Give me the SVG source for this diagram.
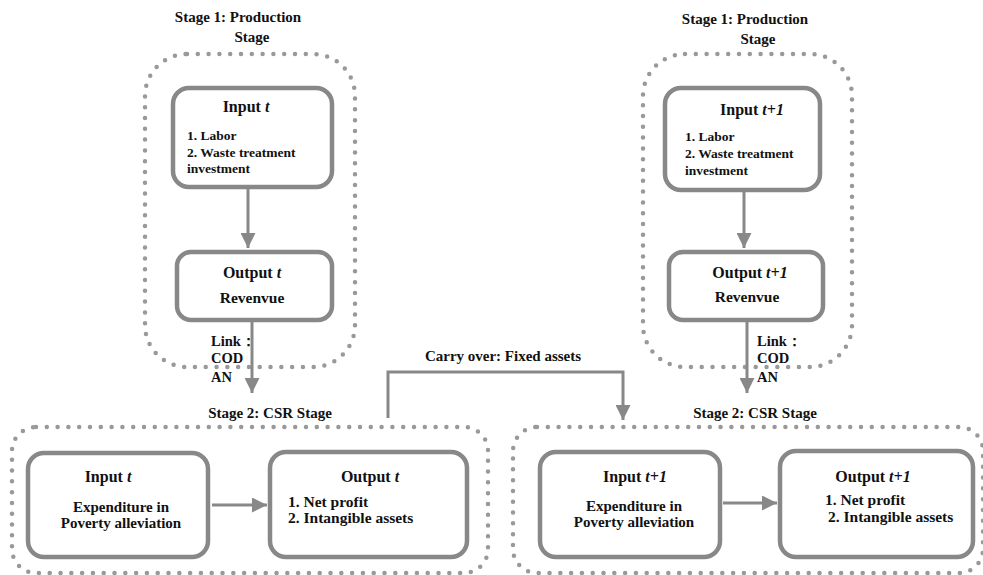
<svg xmlns="http://www.w3.org/2000/svg" width="983" height="575" viewBox="0 0 983 575">
<defs>
<style>
text{font-family:"Liberation Serif","Times New Roman",serif;font-weight:bold;fill:#111;font-size:13.5px}
.h{font-size:16px}
.s{font-size:15px}
.b{font-size:15.5px}
.l{font-size:14.5px}
.m{text-anchor:middle}
.dot{fill:none;stroke:#999;stroke-width:4.5;stroke-linecap:round;stroke-dasharray:0 10.8}
.box{fill:#fff;stroke:#888;stroke-width:4.5}
.ln{fill:none;stroke:#888;stroke-width:3}
</style>
<marker id="ah" viewBox="0 0 10 10" refX="10" refY="5" markerWidth="5" markerHeight="5" orient="auto" markerUnits="strokeWidth">
<path d="M0,0 L10,5 L0,10 z" fill="#888"/>
</marker>
</defs>
<rect width="983" height="575" fill="#fff"/>

<g id="stage1-left">
<rect class="dot" x="145" y="54" width="210" height="313" rx="42"/>
<text class="s m" x="238" y="22">Stage 1: Production</text>
<text class="s m" x="252" y="42">Stage</text>
</g>
<g id="stage1-right">
<rect class="dot" x="643" y="54" width="209" height="313" rx="42"/>
<text class="s m" x="745" y="24">Stage 1: Production</text>
<text class="s m" x="758" y="44">Stage</text>
</g>
<g id="stage2-left">
<rect class="dot" x="12" y="427" width="476" height="146" rx="24"/>
<text class="s m" x="270" y="418">Stage 2: CSR  Stage</text>
</g>
<g id="stage2-right">
<rect class="dot" x="513" y="427" width="470" height="146" rx="24"/>
<text class="s m" x="755" y="418">Stage 2: CSR Stage</text>
</g>

<g id="input-t-prod">
<rect class="box" x="173" y="88" width="159" height="99" rx="16"/>
<text class="h m" x="246" y="112">Input <tspan font-style="italic">t</tspan></text>
<text x="187" y="140">1. Labor</text>
<text x="187" y="157">2. Waste treatment</text>
<text x="187" y="173">investment</text>
</g>
<g id="output-t-prod">
<rect class="box" x="177" y="252" width="155" height="68" rx="14"/>
<text class="h m" x="252" y="278">Output <tspan font-style="italic">t</tspan></text>
<text class="b m" x="252" y="303">Revenvue</text>
</g>
<g id="input-t1-prod">
<rect class="box" x="665" y="88" width="155" height="102" rx="16"/>
<text class="h m" x="752" y="115">Input <tspan font-style="italic">t+1</tspan></text>
<text x="685" y="141">1. Labor</text>
<text x="685" y="158">2. Waste treatment</text>
<text x="685" y="175">investment</text>
</g>
<g id="output-t1-prod">
<rect class="box" x="669" y="252" width="154" height="68" rx="14"/>
<text class="h m" x="750" y="278">Output <tspan font-style="italic">t+1</tspan></text>
<text class="b m" x="747" y="302">Revenvue</text>
</g>

<g id="input-t-csr">
<rect class="box" x="28" y="453" width="180" height="104" rx="16"/>
<text class="h m" x="108" y="482">Input <tspan font-style="italic">t</tspan></text>
<text class="s m" x="121" y="512">Expenditure in</text>
<text class="s m" x="121" y="528">Poverty alleviation</text>
</g>
<g id="output-t-csr">
<rect class="box" x="270" y="452" width="197" height="105" rx="16"/>
<text class="h m" x="370" y="482">Output <tspan font-style="italic">t</tspan></text>
<text class="b" x="288" y="507">1. Net profit</text>
<text class="b" x="288" y="523">2. Intangible assets</text>
</g>
<g id="input-t1-csr">
<rect class="box" x="540" y="452" width="180" height="105" rx="16"/>
<text class="h m" x="635" y="482">Input <tspan font-style="italic">t+1</tspan></text>
<text class="s m" x="634" y="511">Expenditure in</text>
<text class="s m" x="634" y="527">Poverty alleviation</text>
</g>
<g id="output-t1-csr">
<rect class="box" x="780" y="451" width="193" height="106" rx="16"/>
<text class="h m" x="873" y="482">Output <tspan font-style="italic">t+1</tspan></text>
<text class="b" x="825" y="505">1. Net profit</text>
<text class="b" x="828" y="522">2. Intangible assets</text>
</g>

<g id="connectors">
<line class="ln" x1="248" y1="189" x2="248" y2="248" marker-end="url(#ah)"/>
<line class="ln" x1="252" y1="322" x2="252" y2="393" marker-end="url(#ah)"/>
<line class="ln" x1="744" y1="192" x2="744" y2="248" marker-end="url(#ah)"/>
<line class="ln" x1="747" y1="322" x2="747" y2="393" marker-end="url(#ah)"/>
<line class="ln" x1="212" y1="505" x2="267" y2="505" marker-end="url(#ah)"/>
<line class="ln" x1="723" y1="503" x2="777" y2="503" marker-end="url(#ah)"/>
<polyline class="ln" points="388,418 388,372 623,372 623,420" marker-end="url(#ah)"/>
<text class="l" x="211" y="346">Link：</text>
<text class="l" x="211" y="363">COD</text>
<text class="l" x="211" y="382">AN</text>
<text class="l" x="757" y="346">Link：</text>
<text class="l" x="757" y="363">COD</text>
<text class="l" x="757" y="382">AN</text>
<text class="s m" x="503" y="361">Carry over: Fixed assets</text>
</g>
</svg>
